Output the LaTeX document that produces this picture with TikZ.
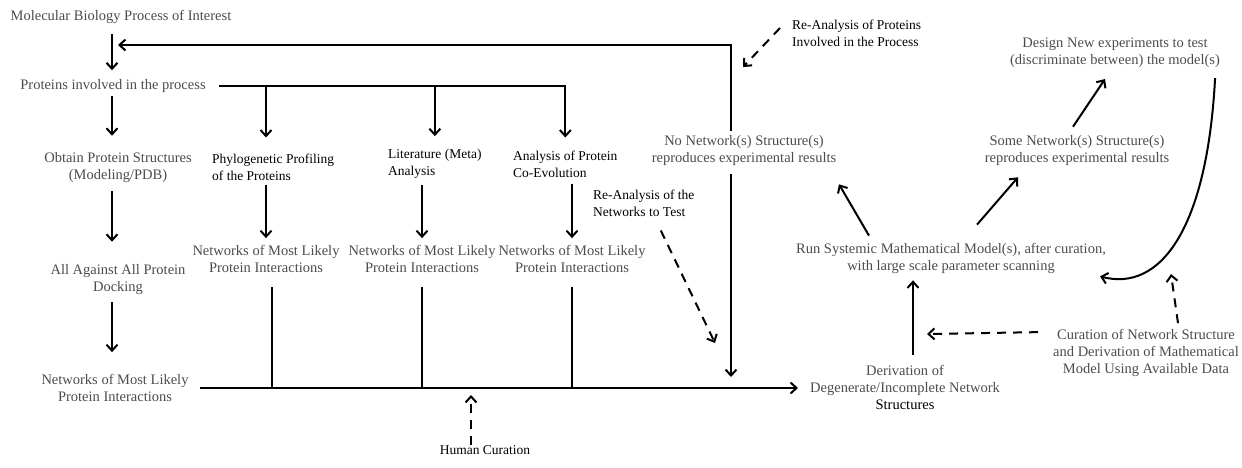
\documentclass[tikz,border=0pt]{standalone}
\usepackage{fontspec}
\setmainfont{Liberation Serif}
\usetikzlibrary{arrows.meta}

\tikzset{
  gtxt/.style={text=black!70, font=\fontsize{14.5}{17}\selectfont, align=center, inner sep=0pt},
  btxt/.style={text=black, font=\fontsize{13.5}{17}\selectfont, align=left, inner sep=0pt},
  arr/.style={line width=2pt, -{Straight Barb[length=6pt,width=11pt]}},
  darr/.style={arr, dash pattern=on 9pt off 7pt},
}

\begin{document}
\begin{tikzpicture}[x=1pt,y=-1pt]
\useasboundingbox (0,0) rectangle (1242,467);
\node[gtxt] (molbio) at (121,17) {Molecular Biology Process of Interest};
\node[gtxt] (prot) at (113,86) {Proteins involved in the process};
\node[gtxt] (obtain) at (118,168) {Obtain Protein Structures\\(Modeling/PDB)};
\node[gtxt] (dock) at (118,280) {All Against All Protein\\Docking};
\node[gtxt] (netL) at (115,388) {Networks of Most Likely\\Protein Interactions};
\node[btxt,anchor=west] (phylo) at (212,167) {Phylogenetic Profiling\\of the Proteins};
\node[btxt,anchor=west] (lit) at (388,164) {Literature (Meta)\\Analysis};
\node[btxt,anchor=west] (coev) at (513,164) {Analysis of Protein\\Co-Evolution};
\node[gtxt] (net1) at (266,259) {Networks of Most Likely\\Protein Interactions};
\node[gtxt] (net2) at (422,259) {Networks of Most Likely\\Protein Interactions};
\node[gtxt] (net3) at (572,259) {Networks of Most Likely\\Protein Interactions};
\node[btxt,anchor=west] (retest) at (593,203) {Re-Analysis of the\\Networks to Test};
\node[gtxt] (nonet) at (744,151) {No Network(s) Structure(s)\\reproduces experimental results};
\node[btxt,anchor=west] (reprot) at (792,33) {Re-Analysis of Proteins\\Involved in the Process};
\node[gtxt] (design) at (1115,53) {Design New experiments to test\\(discriminate between) the model(s)};
\node[gtxt] (some) at (1077,151) {Some Network(s) Structure(s)\\reproduces experimental results};
\node[gtxt] (run) at (951,258) {Run Systemic Mathematical Model(s), after curation,\\with large scale parameter scanning};
\node[gtxt] (deriv) at (905,387) {Derivation of\\Degenerate/Incomplete Network\\\textcolor{black}{Structures}};
\node[gtxt] (cur) at (1146,353) {Curation of Network Structure\\and Derivation of Mathematical\\Model Using Available Data};
\node[btxt] (human) at (485,450) {Human Curation};

\coordinate (spine) at (112,0);
\coordinate (back) at (118,45);
\coordinate (retip) at (715,343);
\coordinate (rptip) at (743,67);
\coordinate (dtip) at (927,334);
\coordinate (uptip) at (1171,274);

\draw[arr,shorten <=10pt,shorten >=9pt] (molbio.south -| spine) -- (prot.north -| spine);
\draw[arr,shorten <=3pt,shorten >=17pt] (prot.south -| spine) -- (obtain.north -| spine);
\draw[arr,shorten <=8pt,shorten >=23pt] (obtain.south -| spine) -- (dock.north -| spine);
\draw[arr,shorten <=7pt,shorten >=22pt] (dock.south -| spine) -- (netL.north -| spine);

\draw[arr,shorten <=13pt,shorten >=13pt] (prot.east) -| (coev.north);
\draw[arr,shorten >=16pt] (prot.east -| net1.north) -- (phylo.north -| net1.north);
\draw[arr,shorten >=13pt] (prot.east -| lit.north) -- (lit.north);

\draw[arr,shorten <=4pt,shorten >=7pt] (phylo.south -| net1.north) -- (net1.north);
\draw[arr,shorten <=6pt,shorten >=7pt] (lit.south -| net2.north) -- (net2.north);
\draw[arr,shorten <=6pt,shorten >=7pt] (coev.south -| net3.north) -- (net3.north);

\draw[line width=2pt,shorten <=14pt] ([xshift=6pt]net1.south) -- ([xshift=6pt]netL.east -| net1.south);
\draw[line width=2pt,shorten <=14pt] (net2.south) -- (netL.east -| net2.south);
\draw[line width=2pt,shorten <=14pt] (net3.south) -- (netL.east -| net3.south);
\draw[arr,shorten <=11pt,shorten >=12pt] (netL.east) -- (netL.east -| deriv.west);
\draw[darr,shorten >=7pt] ([xshift=-14pt]human.north) -- ([xshift=-14pt]netL.east -| human.north);

\draw[arr,shorten <=5pt] ([xshift=-13pt]nonet.north) |- (back);
\draw[arr,shorten <=8pt,shorten >=11pt] ([xshift=-13pt]nonet.south) -- ([xshift=-13pt]netL.east -| nonet.south);
\draw[darr] ([xshift=17pt,yshift=-14pt]retest.south) -- (retip);
\draw[darr] ([xshift=-12pt,yshift=5pt]reprot.west) -- (rptip);

\draw[arr] ([xshift=-82pt,yshift=7pt]run.north) -- ([xshift=95pt,yshift=-18pt]nonet.south);
\draw[arr] ([xshift=26pt,yshift=18pt]run.north) -- ([xshift=-59pt,yshift=-11pt]some.south);
\draw[arr] ([xshift=-4pt,yshift=9pt]some.north) -- ([xshift=-10pt,yshift=-11pt]design.south);
\draw[arr,shorten <=10pt,shorten >=7pt] ([xshift=8pt]deriv.north) -- ([xshift=8pt]run.south -| deriv.north);
\draw[darr] ([xshift=-15pt,yshift=-3pt]cur.north west) -- (dtip);
\draw[darr] ([xshift=32pt,yshift=6pt]cur.north) -- (uptip);
\draw[arr] ([xshift=-5pt,yshift=-10pt]design.south east) .. controls (1207,230) and (1160,292) .. ([xshift=-6pt,yshift=-3pt]run.south east);
\end{tikzpicture}
\end{document}
